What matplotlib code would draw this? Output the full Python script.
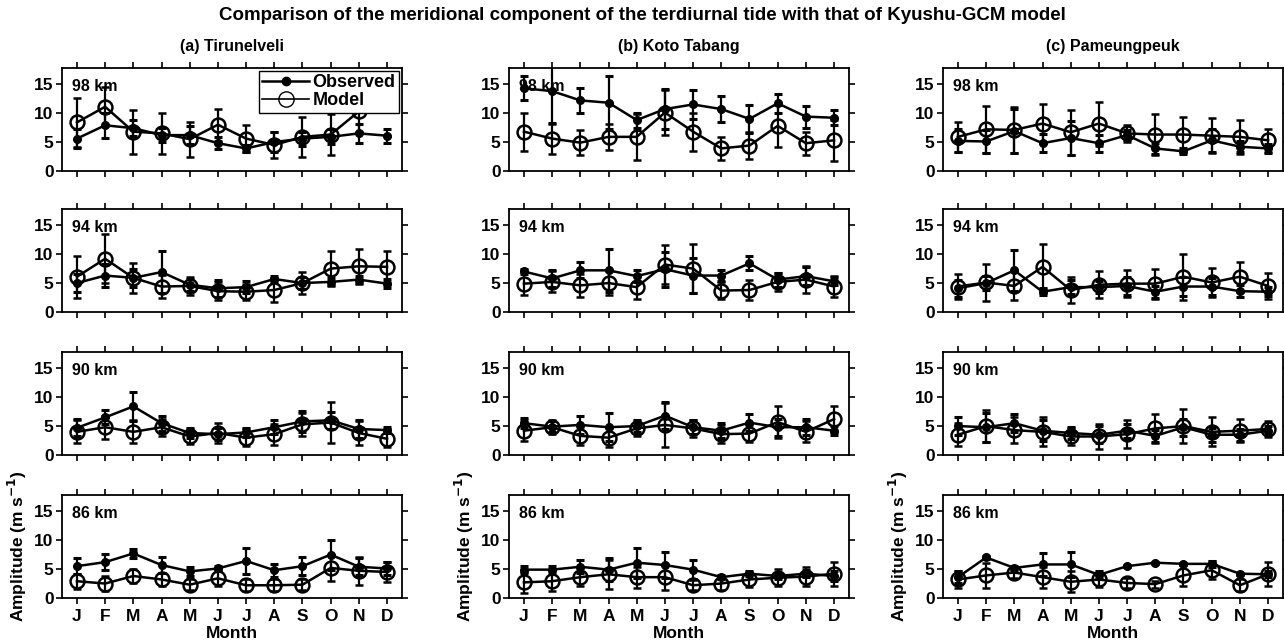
import numpy as np
import matplotlib
matplotlib.use("Agg")
import matplotlib.pyplot as plt
from matplotlib.lines import Line2D

plt.rcParams['font.family'] = ['Liberation Sans', 'DejaVu Sans']
plt.rcParams['font.weight'] = 'bold'
plt.rcParams['axes.labelweight'] = 'bold'

months = ['J', 'F', 'M', 'A', 'M', 'J', 'J', 'A', 'S', 'O', 'N', 'D']
stations = ['(a) Tirunelveli', '(b) Koto Tabang', '(c) Pameungpeuk']
heights = ['98 km', '94 km', '90 km', '86 km']

# rows: 98, 94, 90, 86 km
tir_obs = [[5.6, 7.9, 7.4, 6.2, 6.2, 4.8, 3.9, 5.0, 5.6, 5.9, 6.5, 6.1],
           [5.0, 6.3, 5.9, 6.9, 4.7, 4.1, 4.3, 5.7, 5.0, 5.2, 5.6, 4.9],
           [4.7, 6.5, 8.4, 5.5, 3.8, 3.6, 3.9, 4.8, 5.8, 6.0, 4.5, 4.3],
           [5.5, 6.2, 7.7, 5.7, 4.6, 5.1, 6.4, 4.8, 5.5, 7.5, 5.4, 5.1]]
tir_obs_err = [[1.6, 2.2, 1.4, 1.2, 1.5, 1.0, 0.6, 1.8, 1.2, 1.3, 1.7, 1.2],
               [1.5, 2.0, 1.5, 3.7, 1.0, 1.5, 1.0, 0.5, 1.0, 0.6, 0.6, 0.8],
               [1.5, 1.2, 2.5, 1.3, 0.8, 1.0, 0.8, 1.2, 1.8, 1.5, 1.5, 0.5],
               [1.4, 1.4, 0.8, 1.3, 0.8, 0.5, 2.2, 1.1, 1.5, 2.6, 1.5, 1.2]]
tir_mod = [[8.4, 11.1, 6.8, 6.5, 5.5, 8.0, 5.6, 4.5, 5.9, 6.3, 10.3, 12.5],
           [6.1, 9.2, 5.9, 4.4, 4.5, 3.6, 3.5, 3.8, 5.0, 7.5, 7.9, 7.8],
           [4.0, 4.8, 4.0, 4.8, 3.2, 3.8, 3.0, 3.6, 5.3, 5.6, 3.8, 2.8],
           [2.9, 2.5, 3.8, 3.2, 2.3, 3.4, 2.2, 2.2, 2.3, 5.2, 4.7, 4.5]]
tir_mod_err = [[4.2, 3.4, 3.8, 3.5, 3.0, 2.8, 2.4, 2.3, 3.5, 3.5, 3.5, 2.0],
               [3.6, 4.2, 2.6, 2.0, 1.6, 1.6, 1.4, 2.0, 1.9, 3.0, 3.0, 2.7],
               [2.0, 2.0, 2.0, 1.5, 1.3, 1.8, 1.5, 1.8, 2.0, 3.6, 2.0, 1.5],
               [1.3, 1.3, 1.2, 1.2, 1.0, 1.4, 1.0, 1.0, 1.0, 2.2, 2.4, 1.8]]

kt_obs = [[14.3, 13.8, 12.2, 11.8, 8.8, 10.7, 11.5, 10.7, 9.0, 11.7, 9.4, 9.2],
          [7.0, 5.8, 7.2, 7.2, 6.2, 7.4, 6.3, 6.3, 8.4, 5.6, 6.2, 5.3],
          [5.5, 4.9, 5.2, 4.8, 5.0, 6.8, 4.8, 4.2, 5.6, 4.8, 4.8, 4.2],
          [4.9, 4.9, 5.4, 4.9, 6.1, 5.7, 4.9, 3.6, 4.2, 3.8, 4.2, 3.8]]
kt_obs_err = [[2.1, 5.5, 2.2, 4.6, 1.3, 3.4, 2.5, 2.2, 2.4, 1.6, 1.9, 1.3],
              [0.5, 1.5, 1.4, 3.7, 1.0, 3.0, 3.0, 0.9, 1.2, 1.2, 1.6, 0.7],
              [0.9, 0.9, 1.5, 2.4, 1.0, 2.3, 1.2, 1.3, 1.5, 1.5, 1.4, 0.8],
              [0.6, 0.7, 1.1, 2.0, 2.6, 2.3, 1.6, 0.4, 0.4, 0.5, 0.6, 0.8]]
kt_mod = [[6.8, 5.6, 4.9, 5.9, 5.9, 10.1, 6.8, 3.9, 4.4, 7.8, 4.8, 5.3],
          [4.9, 5.2, 4.6, 5.0, 4.3, 8.2, 7.5, 3.7, 3.8, 5.2, 5.6, 4.4],
          [4.2, 4.8, 3.3, 3.0, 4.6, 5.2, 4.6, 3.6, 3.7, 5.7, 4.0, 6.2],
          [2.7, 2.9, 3.6, 4.1, 3.6, 3.6, 2.2, 2.5, 3.2, 3.5, 3.7, 4.2]]
kt_mod_err = [[3.3, 2.6, 2.1, 2.3, 4.0, 3.9, 3.3, 2.0, 2.3, 3.6, 2.0, 3.6],
              [2.0, 1.8, 2.0, 2.0, 2.0, 3.4, 4.2, 1.5, 1.7, 1.5, 2.3, 1.8],
              [1.8, 1.2, 1.5, 1.6, 1.3, 3.8, 1.5, 1.6, 1.4, 2.7, 1.8, 2.2],
              [1.8, 1.7, 1.6, 2.5, 1.8, 2.2, 0.9, 1.2, 1.3, 1.5, 1.6, 2.1]]

pam_obs = [[5.2, 5.1, 6.9, 4.8, 5.7, 4.8, 6.2, 3.9, 3.4, 5.3, 4.2, 3.9],
           [4.1, 5.0, 7.2, 3.5, 4.3, 4.3, 4.5, 3.5, 4.4, 4.4, 3.6, 3.5],
           [5.0, 4.8, 5.5, 4.2, 3.8, 3.5, 4.2, 3.3, 4.8, 3.5, 3.5, 4.2],
           [3.6, 7.0, 5.2, 5.8, 5.8, 4.0, 5.5, 6.1, 5.9, 5.9, 4.2, 4.1]]
pam_obs_err = [[2.0, 2.0, 3.8, 1.6, 3.0, 1.5, 0.8, 1.0, 0.5, 2.0, 1.0, 0.8],
               [1.5, 1.2, 3.5, 0.6, 1.2, 1.0, 1.5, 1.0, 1.6, 1.5, 1.0, 0.8],
               [1.5, 2.5, 1.6, 1.8, 1.0, 1.5, 1.2, 1.0, 1.5, 1.2, 1.0, 0.8],
               [1.0, 0.3, 0.4, 2.0, 2.2, 0.7, 0.2, 0.2, 0.2, 0.5, 0.2, 0.5]]
pam_mod = [[5.9, 7.2, 7.1, 8.2, 6.7, 8.2, 6.5, 6.3, 6.3, 6.1, 5.9, 5.3],
           [4.4, 5.1, 4.5, 7.8, 3.8, 4.7, 4.9, 4.9, 6.1, 5.1, 6.1, 4.5],
           [3.5, 5.0, 4.3, 4.0, 3.2, 3.2, 3.6, 4.6, 5.0, 4.0, 4.2, 4.5],
           [3.2, 3.9, 4.4, 3.6, 2.8, 3.2, 2.6, 2.4, 3.9, 4.8, 2.2, 4.1]]
pam_mod_err = [[2.6, 4.1, 4.0, 3.4, 3.9, 3.8, 1.5, 3.5, 3.1, 3.0, 2.9, 2.0],
               [2.2, 3.2, 2.5, 3.9, 2.3, 2.3, 2.3, 2.6, 4.0, 2.5, 2.6, 2.2],
               [2.0, 2.8, 2.2, 2.5, 1.4, 2.2, 2.4, 2.5, 2.9, 2.5, 2.0, 1.4],
               [1.4, 2.2, 1.0, 1.8, 1.8, 1.3, 0.8, 0.6, 1.8, 1.6, 1.0, 2.1]]

obs_all = [tir_obs, kt_obs, pam_obs]
obs_err_all = [tir_obs_err, kt_obs_err, pam_obs_err]
mod_all = [tir_mod, kt_mod, pam_mod]
mod_err_all = [tir_mod_err, kt_mod_err, pam_mod_err]

W, H = 1284, 642
fig = plt.figure(figsize=(W / 100, H / 100), dpi=100)

col_left = [62, 509, 943]
ax_w = 340
row_top = [68, 209, 352, 495]
ax_h = 103
x = np.arange(1, 13)

for c in range(3):
    for r in range(4):
        ax = fig.add_axes([col_left[c] / W, 1 - (row_top[r] + ax_h) / H, ax_w / W, ax_h / H])
        ax.errorbar(x, mod_all[c][r], yerr=mod_err_all[c][r], color='black', lw=1.8,
                    marker='o', ms=10, mfc='none', mec='black', mew=1.8,
                    elinewidth=1.6, capsize=3, capthick=2.2, zorder=3)
        ax.errorbar(x, obs_all[c][r], yerr=obs_err_all[c][r], color='black', lw=1.8,
                    marker='o', ms=5.5, mfc='black', mec='black',
                    elinewidth=1.6, capsize=3, capthick=2.2, zorder=4)
        ax.set_xlim(0.47, 12.53)
        ax.set_ylim(0, 17.8)
        ax.set_yticks([0, 5, 10, 15])
        ax.set_xticks(x)
        ax.tick_params(direction='out', length=4, width=1.2, top=True, right=True,
                       labelsize=12.5, pad=2)
        ax.tick_params(axis='x', pad=4)
        for sp in ax.spines.values():
            sp.set_linewidth(1.3)
        ax.text(0.028, 0.82, heights[r], transform=ax.transAxes, fontsize=11.5,
                fontweight='bold', va='center', ha='left')
        if r == 3:
            ax.set_xticklabels(months, fontsize=12.5)
            ax.set_xlabel('Month', fontsize=12.5, labelpad=1)
            ax.set_ylabel('Amplitude (m s$^{\\mathbf{-1}}$)', fontsize=12.5, labelpad=4)
        else:
            ax.set_xticklabels([])
        if r == 0:
            ax.set_title(stations[c], fontsize=11.5, fontweight='bold', pad=12)
        if r == 0 and c == 0:
            handles = [Line2D([], [], color='black', lw=1.8, marker='o', ms=6, mfc='black'),
                       Line2D([], [], color='black', lw=1.2, marker='o', ms=11, mfc='none', mew=1.0)]
            leg = ax.legend(handles, ['Observed', 'Model'], loc='upper right', fontsize=13,
                            frameon=True, fancybox=False, framealpha=1,
                            edgecolor='black', borderaxespad=0.15, handlelength=2.6,
                            borderpad=0.2, labelspacing=0.05, handletextpad=0.2)
            leg.get_frame().set_linewidth(1.0)
            leg.set_zorder(10)

fig.text(0.5, 1 - 16 / H,
         'Comparison of the meridional component of the terdiurnal tide with that of Kyushu-GCM model',
         ha='center', va='center', fontsize=13.5, fontweight='bold')

fig.savefig('out.png', dpi=100)
